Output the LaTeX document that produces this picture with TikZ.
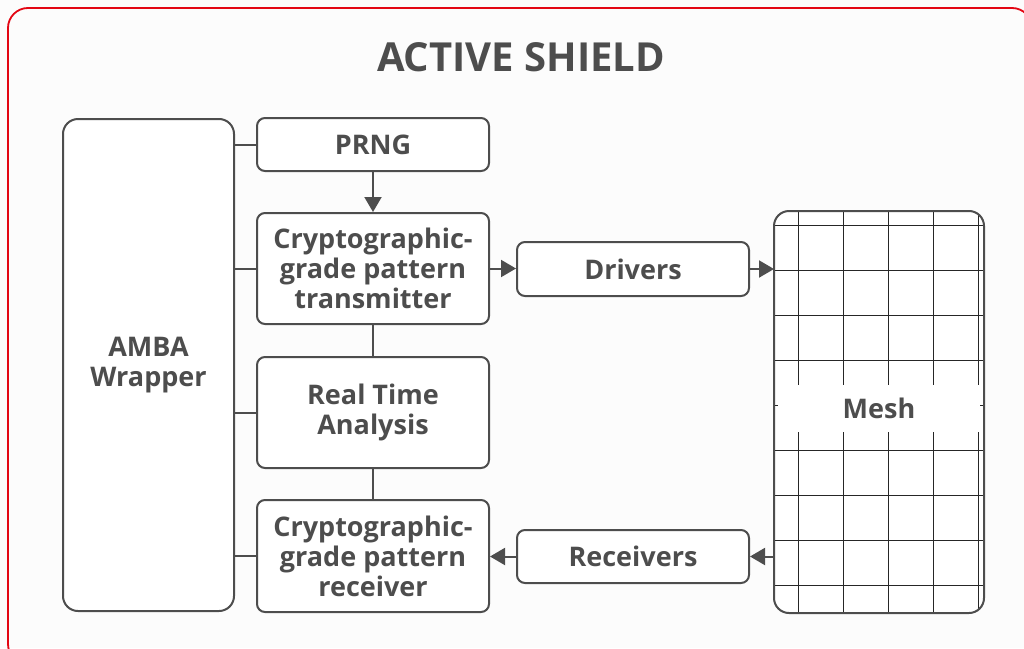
\documentclass[tikz,border=0pt]{standalone}
\usepackage{fontspec}
\setmainfont{Open Sans}
\usetikzlibrary{arrows.meta,positioning,calc}
\definecolor{shieldred}{HTML}{E30613}
\definecolor{ink}{HTML}{4D4D4D}
\definecolor{paper}{HTML}{FCFCFC}

\tikzset{
  block/.style={draw=ink, line width=2pt, fill=white, rounded corners=8pt,
    text=ink, font=\bfseries\fontsize{27}{30}\selectfont, align=center,
    inner sep=0pt},
  link/.style={draw=ink, line width=2pt},
  flow/.style={link, -{Triangle[length=15pt,width=17pt]}},
}

\begin{document}
\begin{tikzpicture}[x=1pt,y=-1pt]
  \useasboundingbox (0,0) rectangle (1024,648);
  \fill[paper] (0,0) rectangle (1024,648);

  % Outer frame
  \draw[shieldred, line width=1.8pt, rounded corners=20pt] (8,8) rectangle (1032,664);

  % Title
  \node[text=ink, font=\bfseries\fontsize{40}{46}\selectfont] (title) at (521,57) {ACTIVE SHIELD};

  % Blocks
  \node[block, rounded corners=15pt, minimum width=171pt, minimum height=492pt]
    (amba) at (148.5,365) {AMBA\\Wrapper};
  \node[block, minimum width=232pt, minimum height=53pt] (prng) at (373,144.5) {PRNG};
  \node[block, minimum width=232pt, minimum height=111pt] (ctx) at (373,268.5)
    {Cryptographic-\\grade pattern\\transmitter};
  \node[block, minimum width=232pt, minimum height=111pt] (rta) at (373,412.5)
    {Real Time\\Analysis};
  \node[block, minimum width=232pt, minimum height=112pt] (crx) at (373,556)
    {Cryptographic-\\grade pattern\\receiver};
  \node[block, minimum width=232pt, minimum height=54pt] (drivers) at (633,269) {Drivers};
  \node[block, minimum width=232pt, minimum height=53pt] (receivers) at (633,556.5) {Receivers};

  % Mesh with its grid
  \node[block, draw=none, rounded corners=15pt, minimum width=208pt, minimum height=400pt]
    (mesh) at (879,412) {};
  \begin{scope}
    \clip[rounded corners=15pt] (mesh.north west) rectangle (mesh.south east);
    \foreach \gx in {798,843,...,978}
      \draw[black!85, line width=0.9pt] (\gx,212) -- (\gx,612);
    \foreach \gy in {225,270,...,585}
      \draw[black!85, line width=0.9pt] (775,\gy) -- (983,\gy);
  \end{scope}
  \draw[ink, line width=2pt, rounded corners=15pt] (mesh.north west) rectangle (mesh.south east);
  \node[fill=white, text=ink, font=\bfseries\fontsize{27}{30}\selectfont,
    minimum width=202pt, minimum height=47pt, inner sep=0pt] (meshtag) at (879,408) {Mesh};

  % Bus to the AMBA wrapper
  \draw[link] (prng.west -| amba.east) -- (prng.west);
  \draw[link] (ctx.west -| amba.east) -- (ctx.west);
  \draw[link] (rta.west -| amba.east) -- (rta.west);
  \draw[link] (crx.west -| amba.east) -- (crx.west);

  % Data path
  \draw[flow] (prng.south) -- (ctx.north);
  \draw[link] (ctx.south) -- (rta.north);
  \draw[link] (rta.south) -- (crx.north);
  \draw[flow] (ctx.east) -- (ctx.east -| drivers.west);
  \draw[flow] (drivers.east) -- (drivers.east -| mesh.west);
  \draw[flow] (receivers.east -| mesh.west) -- (receivers.east);
  \draw[flow] (receivers.west) -- (receivers.west -| crx.east);
\end{tikzpicture}
\end{document}
